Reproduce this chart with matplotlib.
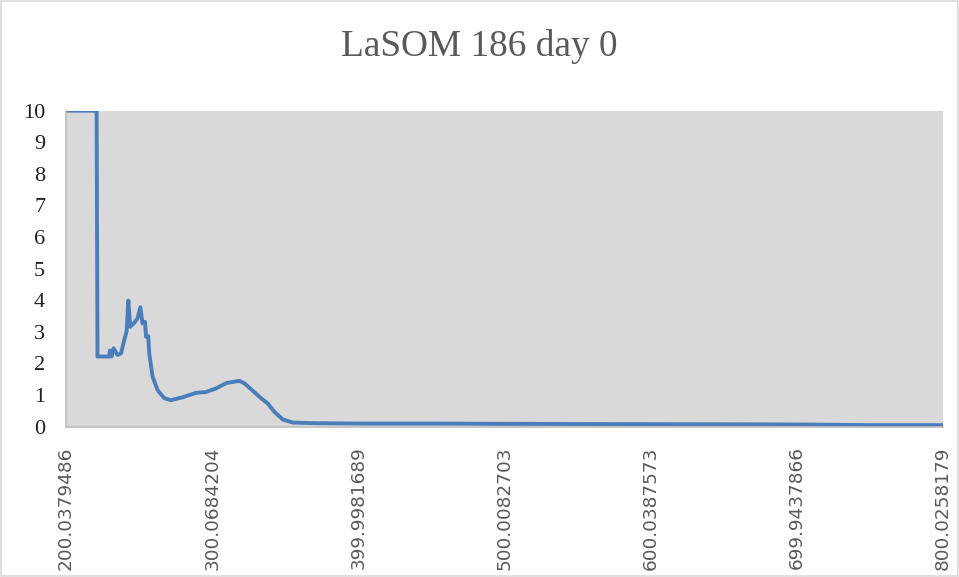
import matplotlib
matplotlib.use("Agg")
import matplotlib.pyplot as plt
from matplotlib.patches import Rectangle

# m/z (x) and intensity (y)
mz = [200.04, 210.0, 220.5, 221.0, 221.6, 229.6, 230.1, 231.2, 232.6, 235.3,
      237.7, 239.9, 241.5, 242.7, 244.0, 246.8, 249.0, 250.9, 252.4, 254.1,
      254.8, 256.3, 257.0, 259.3, 262.7, 267.3, 271.9, 279.8, 289.0, 295.9,
      302.7, 309.6, 318.7, 322.1, 327.8, 333.5, 338.0, 342.6, 348.3, 355.2,
      371.2, 400.0, 450.0, 500.0, 600.0, 700.0, 750.0, 800.03]
intensidade = [10, 10, 10, 10, 2.22, 2.22, 2.41, 2.22, 2.48, 2.27,
               2.32, 2.74, 3.01, 3.99, 3.16, 3.29, 3.43, 3.78, 3.27, 3.32,
               2.85, 2.87, 2.32, 1.58, 1.16, 0.9, 0.84, 0.93, 1.07, 1.1,
               1.21, 1.38, 1.45, 1.37, 1.14, 0.9, 0.74, 0.47, 0.23, 0.13,
               0.11, 0.1, 0.1, 0.09, 0.08, 0.07, 0.05, 0.05]

posicoes_x = [200.0379486, 300.0684204, 399.9981689, 500.0082703,
              600.0387573, 699.9437866, 800.0258179]
rotulos_x = ["200.0379486", "300.0684204", "399.9981689", "500.0082703",
             "600.0387573", "699.9437866", "800.0258179"]
posicoes_y = list(range(0, 11))

fig = plt.figure(figsize=(9.59, 5.77), dpi=100)
ax = fig.add_axes([0.0688, 0.2605, 0.9145, 0.5477])

ax.set_facecolor("#D9D9D9")
ax.plot(mz, intensidade, color="#4A7EBB", linewidth=2.8, solid_joinstyle="round")

ax.set_xlim(200.0379486, 800.0258179)
ax.set_ylim(0, 10)

ax.set_xticks(posicoes_x)
ax.set_xticklabels(rotulos_x, rotation=90, fontsize=13.3, color="#595959",
                   family="DejaVu Sans")
ax.set_yticks(posicoes_y)
ax.set_yticklabels([str(v) for v in posicoes_y], fontsize=16,
                   family="Liberation Serif", color="#202020")
ax.tick_params(axis="x", length=0, pad=14)
ax.tick_params(axis="y", length=0, pad=15)

for lado in ["top", "right"]:
    ax.spines[lado].set_visible(False)
for lado in ["left", "bottom"]:
    ax.spines[lado].set_color("#BFBFBF")
    ax.spines[lado].set_linewidth(1.2)

fig.text(0.5, 0.92, "LaSOM 186 day 0", ha="center", va="center",
         fontsize=26.8, family="Liberation Serif", color="#595959")

fig.patches.append(Rectangle((0.001, 0.001), 0.998, 0.998, transform=fig.transFigure,
                             fill=False, edgecolor="#D9D9D9", linewidth=1.2))

plt.savefig("out.png", dpi=100)
plt.close()
